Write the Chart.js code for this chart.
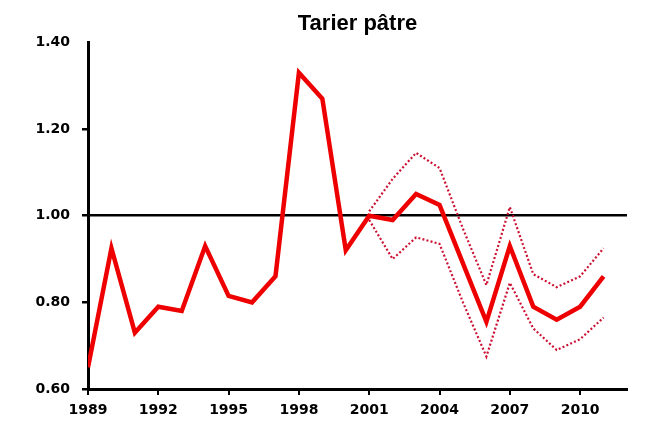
<!DOCTYPE html>
<html>
<head>
<meta charset="utf-8">
<title>Tarier pâtre</title>
<script src="https://cdn.jsdelivr.net/npm/chart.js@4"></script>
<style>
  html, body { margin: 0; padding: 0; background: #fff; }
  #wrap { width: 645px; height: 423px; }
</style>
</head>
<body>
<div id="wrap"><canvas id="trendChart"></canvas></div>
<script>
// Annual abundance index, 1.00 = reference level
const years = [1989, 1990, 1991, 1992, 1993, 1994, 1995, 1996, 1997, 1998, 1999, 2000,
               2001, 2002, 2003, 2004, 2005, 2006, 2007, 2008, 2009, 2010, 2011];
const index = [0.65, 0.925, 0.73, 0.79, 0.78, 0.93, 0.815, 0.80, 0.86, 1.33, 1.27, 0.92,
               1.00, 0.99, 1.05, 1.025, 0.89, 0.755, 0.93, 0.79, 0.76, 0.79, 0.86];

// Confidence bounds, only available from 2001 on
const ciYears = [2001, 2002, 2003, 2004, 2005, 2006, 2007, 2008, 2009, 2010, 2011];
const upperCI = [1.01, 1.085, 1.145, 1.11, 0.97, 0.84, 1.02, 0.865, 0.835, 0.86, 0.925];
const lowerCI = [0.99, 0.90, 0.95, 0.935, 0.80, 0.675, 0.845, 0.74, 0.69, 0.715, 0.765];

const yearTicks = [1989, 1992, 1995, 1998, 2001, 2004, 2007, 2010];
const valueTicks = [0.60, 0.80, 1.00, 1.20, 1.40];
const referenceLevel = 1.00;

const toPoints = (xs, ys) => xs.map((x, i) => ({ x: x, y: ys[i] }));

const tickFont = { family: 'DejaVu Sans', size: 14, weight: 'bold' };
const none = 'rgba(0,0,0,0)';

const ctx = document.getElementById('trendChart').getContext('2d');
new Chart(ctx, {
    type: 'line',
    data: {
        datasets: [{
            label: 'Indice',
            data: toPoints(years, index),
            borderColor: '#ee0000',
            borderWidth: 4.5,
            pointRadius: 0,
            tension: 0
        }, {
            label: 'Borne haute',
            data: toPoints(ciYears, upperCI),
            borderColor: '#cc1133',
            borderWidth: 2.2,
            borderDash: [2, 2.2],
            pointRadius: 0,
            tension: 0
        }, {
            label: 'Borne basse',
            data: toPoints(ciYears, lowerCI),
            borderColor: '#cc1133',
            borderWidth: 2.2,
            borderDash: [2, 2.2],
            pointRadius: 0,
            tension: 0
        }]
    },
    options: {
        responsive: true,
        maintainAspectRatio: false,
        animation: false,
        layout: { padding: { left: 30, right: 18, top: 0, bottom: 0 } },
        plugins: {
            legend: { display: false },
            tooltip: { enabled: false },
            title: {
                display: true,
                fullSize: false,
                text: 'Tarier pâtre',
                color: '#000',
                font: { family: 'Liberation Sans', size: 22, weight: 'bold' },
                padding: { top: 11, bottom: 5 }
            }
        },
        scales: {
            x: {
                type: 'linear',
                min: 1989,
                max: 2012,
                border: { color: '#000', width: 3 },
                grid: { drawOnChartArea: false, color: '#000', tickColor: '#000', tickLength: 6, lineWidth: 2 },
                ticks: { color: '#000', font: tickFont, padding: 7, maxRotation: 0, callback: v => String(v) },
                afterBuildTicks: axis => { axis.ticks = yearTicks.map(v => ({ value: v })); },
                afterFit: axis => { axis.height = 34; axis.paddingLeft = 0; axis.paddingRight = 0; }
            },
            y: {
                min: 0.6,
                max: 1.4,
                border: { color: '#000', width: 3 },
                grid: {
                    color: c => Math.abs(c.tick.value - referenceLevel) < 1e-6 ? '#000' : none,
                    tickColor: c => c.tick.value > 1.39 ? none : '#000',
                    lineWidth: 2.5,
                    tickLength: 6
                },
                ticks: { color: '#000', font: tickFont, padding: 12, callback: v => v.toFixed(2) },
                afterBuildTicks: axis => { axis.ticks = valueTicks.map(v => ({ value: v })); },
                afterFit: axis => { axis.width = 58; }
            }
        }
    }
});
</script>
</body>
</html>
